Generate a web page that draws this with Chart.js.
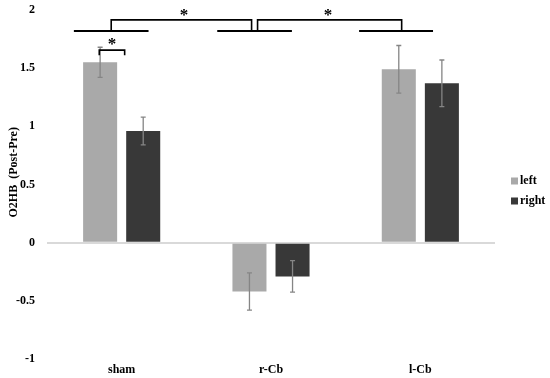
<!DOCTYPE html>
<html>
<head>
<meta charset="utf-8">
<script src="https://cdn.jsdelivr.net/npm/chart.js@4.4.1/dist/chart.umd.min.js"></script>
<style>
  html, body { margin: 0; padding: 0; background: #fff; }
  #wrap { width: 550px; height: 378px; }
</style>
</head>
<body>
<div id="wrap"><canvas id="chart"></canvas></div>
<script>
// data
const groups = ["sham", "r-Cb", "l-Cb"];
const leftMeans = [1.55, -0.42, 1.49];
const leftErr = [0.13, 0.16, 0.205];
const rightMeans = [0.96, -0.29, 1.37];
const rightErr = [0.12, 0.135, 0.20];
const yTicks = [-1, -0.5, 0, 0.5, 1, 1.5, 2];
const yTitle = "O2HB  (Post-Pre)";

const serif = '"Liberation Serif", "Times New Roman", serif';

// significance marks, x in category units, y in data units
const baseLines = [[-0.32, 0.18], [0.64, 1.14], [1.59, 2.085]];
const baseY = 1.82;
const bigBrackets = [{ from: -0.07, to: 0.87, star: 0.417 }, { from: 0.91, to: 1.875, star: 1.382 }];
const bigTop = 1.915;
const smallBracket = { from: -0.15, to: 0.02, top: 1.655, leg: 1.61 };

const errorBars = {
  id: "errorBars",
  afterDatasetsDraw(chart) {
    const ctx = chart.ctx;
    const y = chart.scales.y;
    const errs = [leftErr, rightErr];
    ctx.save();
    ctx.strokeStyle = "#858585";
    ctx.lineWidth = 1.3;
    chart.data.datasets.forEach((ds, di) => {
      chart.getDatasetMeta(di).data.forEach((bar, i) => {
        const v = ds.data[i];
        const hi = y.getPixelForValue(v + errs[di][i]);
        const lo = y.getPixelForValue(v - errs[di][i]);
        ctx.beginPath();
        ctx.moveTo(bar.x, hi); ctx.lineTo(bar.x, lo);
        ctx.moveTo(bar.x - 2.5, hi); ctx.lineTo(bar.x + 2.5, hi);
        ctx.moveTo(bar.x - 2.5, lo); ctx.lineTo(bar.x + 2.5, lo);
        ctx.stroke();
      });
    });
    ctx.restore();
  }
};

const sigMarks = {
  id: "sigMarks",
  afterDraw(chart) {
    const ctx = chart.ctx;
    const xs = chart.scales.x, ys = chart.scales.y;
    const cw = xs.width / groups.length;
    const px = p => xs.getPixelForValue(0) + p * cw;
    const py = v => ys.getPixelForValue(v);
    ctx.save();
    ctx.strokeStyle = "#000";
    ctx.lineWidth = 2;
    baseLines.forEach(l => {
      ctx.beginPath();
      ctx.moveTo(px(l[0]), py(baseY));
      ctx.lineTo(px(l[1]), py(baseY));
      ctx.stroke();
    });
    ctx.lineWidth = 1.6;
    ctx.fillStyle = "#000";
    ctx.font = "bold 17px " + serif;
    ctx.textAlign = "center";
    ctx.textBaseline = "middle";
    bigBrackets.forEach(b => {
      ctx.beginPath();
      ctx.moveTo(px(b.from), py(baseY));
      ctx.lineTo(px(b.from), py(bigTop));
      ctx.lineTo(px(b.to), py(bigTop));
      ctx.lineTo(px(b.to), py(baseY));
      ctx.stroke();
      ctx.fillText("*", px(b.star), py(1.95));
    });
    const s = smallBracket;
    ctx.beginPath();
    ctx.moveTo(px(s.from), py(s.leg));
    ctx.lineTo(px(s.from), py(s.top));
    ctx.lineTo(px(s.to), py(s.top));
    ctx.lineTo(px(s.to), py(s.leg));
    ctx.stroke();
    ctx.fillText("*", px((s.from + s.to) / 2), py(s.top + 0.05));

    const a = chart.chartArea;
    // y axis title
    ctx.save();
    ctx.translate(14, a.top + a.height * 0.465);
    ctx.rotate(-Math.PI / 2);
    ctx.font = "bold 12px " + serif;
    ctx.fillText(yTitle, 0, 0);
    ctx.restore();

    // legend
    const lx = a.right + 16;
    const ly = (a.top + a.bottom) / 2 - 3.5;
    ctx.font = "bold 12px " + serif;
    ctx.textAlign = "left";
    chart.data.datasets.forEach((ds, i) => {
      const yy = ly + i * 20;
      ctx.fillStyle = ds.backgroundColor;
      ctx.fillRect(lx, yy - 3.5, 7, 7);
      ctx.fillStyle = "#000";
      ctx.fillText(ds.label, lx + 9, yy);
    });
    ctx.restore();
  }
};

new Chart(document.getElementById("chart"), {
  type: "bar",
  data: {
    labels: groups,
    datasets: [
      { label: "left", data: leftMeans, backgroundColor: "#a9a9a9" },
      { label: "right", data: rightMeans, backgroundColor: "#383838" }
    ]
  },
  options: {
    responsive: true,
    maintainAspectRatio: false,
    animation: false,
    categoryPercentage: 0.577,
    barPercentage: 0.79,
    layout: { padding: { top: 10, right: 55, left: 0, bottom: 0 } },
    plugins: { legend: { display: false }, tooltip: { enabled: false } },
    scales: {
      x: {
        grid: { display: false, drawTicks: false },
        border: { display: false },
        ticks: { color: "#000", font: { family: serif, size: 12, weight: "bold" }, padding: 4 },
        afterFit(scale) { scale.height = 19; }
      },
      y: {
        min: -1,
        max: 2,
        afterBuildTicks(scale) { scale.ticks = yTicks.map(v => ({ value: v })); },
        grid: {
          drawTicks: false,
          lineWidth: 2,
          color: c => (c.tick && c.tick.value === 0 ? "#d9d9d9" : "rgba(0,0,0,0)")
        },
        border: { display: false },
        ticks: {
          color: "#000",
          font: { family: serif, size: 12, weight: "bold" },
          padding: 12,
          callback: v => String(v)
        },
        afterFit(scale) {
          scale.width = 47;
          scale.paddingTop = 0;
          scale.paddingBottom = 0;
        }
      }
    }
  },
  plugins: [errorBars, sigMarks]
});
</script>
</body>
</html>
